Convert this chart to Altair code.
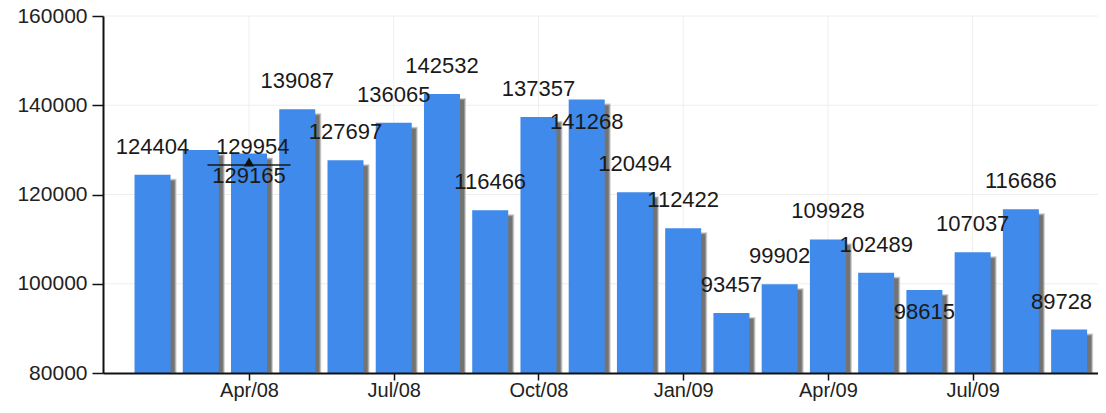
import altair as alt
import pandas as pd

# ---- data ----
months = ["Feb/08", "Mar/08", "Apr/08", "May/08", "Jun/08", "Jul/08", "Aug/08",
          "Sep/08", "Oct/08", "Nov/08", "Dec/08", "Jan/09", "Feb/09", "Mar/09",
          "Apr/09", "May/09", "Jun/09", "Jul/09", "Aug/09", "Sep/09"]
values = [124404, 129954, 129165, 139087, 127697, 136065, 142532, 116466,
          137357, 141268, 120494, 112422, 93457, 99902, 109928, 102489,
          98615, 107037, 116686, 89728]
label_place = ["above", "shifted", "below", "above", "above", "above", "above",
               "above", "above", "below", "above", "above", "above", "above",
               "above", "above", "below", "above", "above", "edge"]
tick_months = ["Apr/08", "Jul/08", "Oct/08", "Jan/09", "Apr/09", "Jul/09"]
y_ticks = [80000, 100000, 120000, 140000, 160000]
marker_month = ["Apr/08"]
marker_value = [126600]

FONT = "Liberation Sans, Arial, sans-serif"
BLUE = "#3f8aea"
GRID = "#eeeeee"

tick_idx = [months.index(m) for m in tick_months]
df = pd.DataFrame({"idx": list(range(len(months))), "month": months,
                   "value": values, "place": label_place})
mk = pd.DataFrame({"idx": [months.index(m) for m in marker_month],
                   "value": marker_value})
gx = pd.DataFrame({"idx": tick_idx})
gy = pd.DataFrame({"value": y_ticks[1:]})

label_expr = "[" + ",".join("'%s'" % m for m in months) + "][datum.value]"

x_scale = alt.Scale(domain=[-0.923, 19.495], nice=False, zero=False)
y_scale = alt.Scale(domain=[y_ticks[0], y_ticks[-1]], nice=False, zero=False)

x_enc = alt.X("idx:Q", scale=x_scale,
              axis=alt.Axis(values=tick_idx, labelExpr=label_expr, title=None,
                            grid=False, tickSize=7, labelPadding=0, labelFontSize=20,
                            zindex=1))
y_enc = alt.Y("value:Q", scale=y_scale,
              axis=alt.Axis(values=y_ticks, title=None, grid=False, format="d",
                            tickSize=11, labelPadding=5, labelFontSize=21, zindex=1))
y2_enc = alt.Y2(datum=y_ticks[0])

# gridlines (drawn behind everything)
grid_h = alt.Chart(gy).mark_rule(color=GRID, strokeWidth=1).encode(y=y_enc)
grid_v = alt.Chart(gx).mark_rule(color=GRID, strokeWidth=1).encode(x=x_enc)

base = alt.Chart(df).encode(x=x_enc, y=y_enc)

shadow = base.mark_bar(size=36, xOffset=5, yOffset=5, color="#737373",
                       stroke="#b0b0b0", strokeWidth=2, strokeOpacity=0.6).encode(y2=y2_enc)
bars = base.mark_bar(size=36, color=BLUE).encode(y2=y2_enc)

txt = dict(font=FONT, fontSize=22, baseline="middle", color="#1a1a1a")
lab_above = base.mark_text(dy=-28, align="center", **txt).encode(
    text="value:Q").transform_filter(alt.datum.place == "above")
lab_below = base.mark_text(dy=22, align="center", **txt).encode(
    text="value:Q").transform_filter(alt.datum.place == "below")
lab_shift = base.mark_text(dx=52, dy=-3, align="center", **txt).encode(
    text="value:Q").transform_filter(alt.datum.place == "shifted")
lab_edge = base.mark_text(dx=23, dy=-28, align="right", **txt).encode(
    text="value:Q").transform_filter(alt.datum.place == "edge")

mbase = alt.Chart(mk).encode(x=x_enc, y=y_enc)
m_line = mbase.mark_tick(orient="horizontal", size=83, thickness=2, color="#111")
m_tri = mbase.mark_point(shape="triangle-up", filled=True, size=110, color="#111",
                         opacity=1, yOffset=-3)

chart = alt.layer(grid_h, grid_v, shadow, bars, lab_above, lab_below, lab_shift,
                  lab_edge, m_line, m_tri).properties(
    width=995, height=357,
    autosize=alt.AutoSizeParams(type="none"),
    padding={"left": 95, "top": 8, "right": 0, "bottom": 28},
).configure_axis(
    domainColor="#111111", domainWidth=2, tickColor="#111111", tickWidth=1.5,
    labelFont=FONT, labelColor="#222222",
).configure_view(stroke=None)

chart.save("out.html", embed_options={"renderer": "svg", "actions": False})
